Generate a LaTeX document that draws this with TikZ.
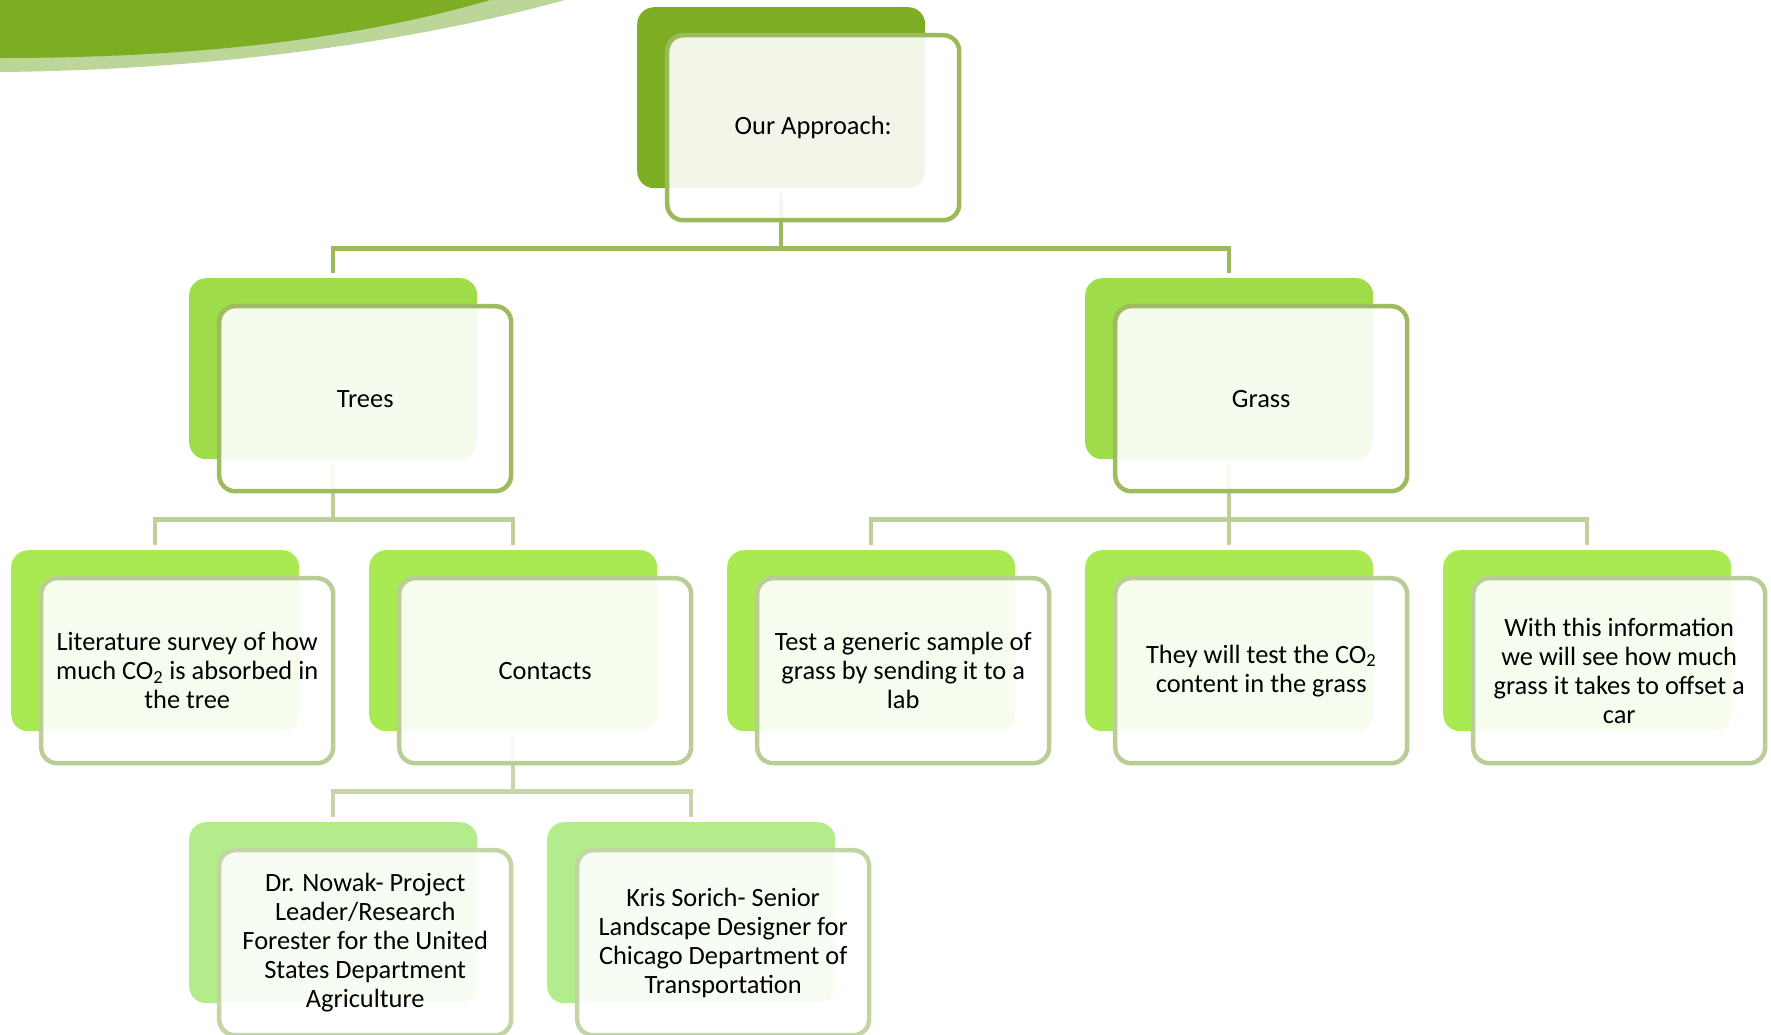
\documentclass[tikz,border=0pt]{standalone}
\usepackage{fontspec}
\setmainfont{Carlito}
\usetikzlibrary{calc}

\definecolor{swoosh}{HTML}{7DAD22}
\definecolor{swooshlight}{HTML}{BCD598}
\definecolor{backA}{HTML}{7DAD22}
\definecolor{backB}{HTML}{9FDC4A}
\definecolor{backC}{HTML}{A9EA53}
\definecolor{backD}{HTML}{B3EC8B}
\definecolor{rimA}{HTML}{9BBB59}
\definecolor{rimB}{HTML}{9EBC5E}
\definecolor{rimC}{HTML}{B9CD95}
\definecolor{rimD}{HTML}{C3D5A5}
\definecolor{linkA}{HTML}{9CBA5D}
\definecolor{linkB}{HTML}{BDD09B}
\definecolor{linkC}{HTML}{C6D6AA}

\tikzset{
  back/.style={rectangle, rounded corners=17pt, anchor=north west, minimum width=288pt, minimum height=181pt, inner sep=0pt},
  front/.style={rectangle, rounded corners=16pt, line width=4.5pt, fill=white, fill opacity=0.9, text opacity=1, minimum width=292pt, minimum height=185pt, inner sep=0pt, align=center, font=\fontsize{26.4}{29}\selectfont},
  link/.style={line width=4.5pt, shorten <=5pt, shorten >=5pt}
}

\begin{document}
\begin{tikzpicture}[x=1pt,y=-1pt]
\useasboundingbox (0,0) rectangle (1771,1034);

\fill[swooshlight] (0,0) -- (565,0) .. controls (420,40) and (220,70) .. (0,72) -- cycle;
\fill[swoosh] (0,0) -- (490,0) .. controls (360,38) and (200,58) .. (0,58) -- cycle;

\node[back, fill=backA] (appback) at (637,7) {};
\node[back, fill=backB] (treesback) at (189,278) {};
\node[back, fill=backB] (grassback) at (1085,278) {};
\node[back, fill=backC] (litback) at (11,550) {};
\node[back, fill=backC] (contback) at (369,550) {};
\node[back, fill=backC] (testback) at (727,550) {};
\node[back, fill=backC] (co2back) at (1085,550) {};
\node[back, fill=backC] (offsetback) at (1443,550) {};
\node[back, fill=backD] (nowakback) at (189,822) {};
\node[back, fill=backD] (sorichback) at (547,822) {};

\draw[link, linkA] (appback.south) -- ++(0,60) -| (treesback.north);
\draw[link, linkA] (appback.south) -- ++(0,60) -| (grassback.north);
\draw[link, linkB] (treesback.south) -- ++(0,60) -| (litback.north);
\draw[link, linkB] (treesback.south) -- ++(0,60) -| (contback.north);
\draw[link, linkB] (grassback.south) -- ++(0,60) -| (testback.north);
\draw[link, linkB] (grassback.south) -- ++(0,60) -| (co2back.north);
\draw[link, linkB] (grassback.south) -- ++(0,60) -| (offsetback.north);
\draw[link, linkC] (contback.south) -- ++(0,60) -| (nowakback.north);
\draw[link, linkC] (contback.south) -- ++(0,60) -| (sorichback.north);

\node[front, draw=rimA] (approach) at ($(appback.center)+(32,30)$) {Our Approach:};
\node[front, draw=rimB] (trees) at ($(treesback.center)+(32,30)$) {Trees};
\node[front, draw=rimB] (grass) at ($(grassback.center)+(32,30)$) {Grass};
\node[front, draw=rimC] (lit) at ($(litback.center)+(32,30)$) {Literature survey of how\\much CO\textsubscript{2} is absorbed in\\the tree};
\node[front, draw=rimC] (contacts) at ($(contback.center)+(32,30)$) {Contacts};
\node[front, draw=rimC] (test) at ($(testback.center)+(32,30)$) {Test a generic sample of\\grass by sending it to a\\lab};
\node[front, draw=rimC] (cotwo) at ($(co2back.center)+(32,30)$) {They will test the CO\textsubscript{2}\\content in the grass};
\node[front, draw=rimC] (offset) at ($(offsetback.center)+(32,30)$) {With this information\\we will see how much\\grass it takes to offset a\\car};
\node[front, draw=rimD] (nowak) at ($(nowakback.center)+(32,30)$) {Dr. Nowak- Project\\Leader/Research\\Forester for the United\\States Department\\Agriculture};
\node[front, draw=rimD] (sorich) at ($(sorichback.center)+(32,30)$) {Kris Sorich- Senior\\Landscape Designer for\\Chicago Department of\\Transportation};
\end{tikzpicture}
\end{document}
